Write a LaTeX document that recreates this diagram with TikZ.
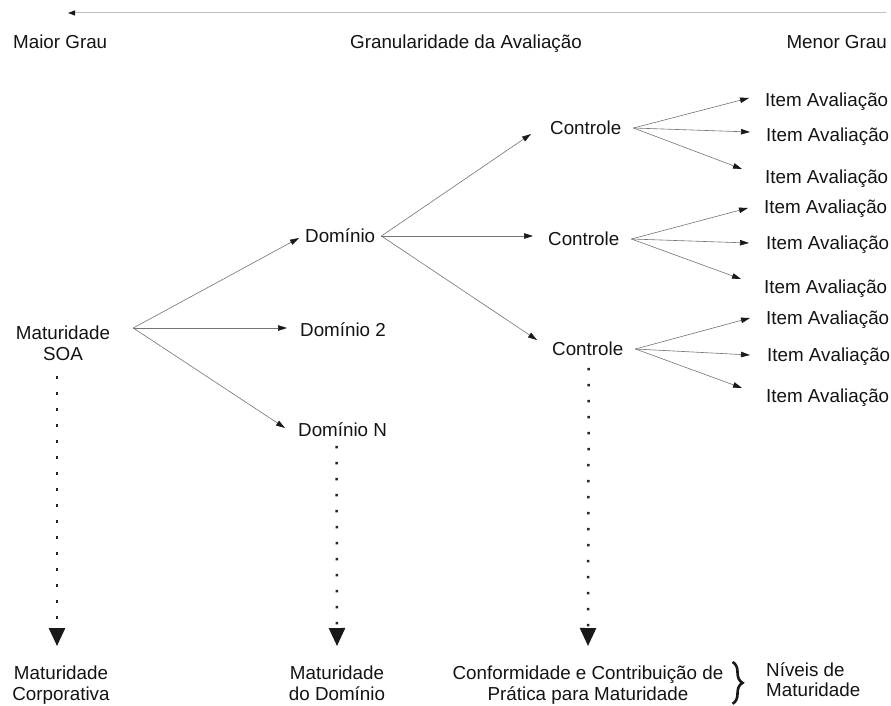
\documentclass[tikz,border=0pt]{standalone}
\usepackage{fontspec}
\setmainfont{Liberation Sans}
\usetikzlibrary{arrows.meta,decorations.pathreplacing}
\begin{document}
\begin{tikzpicture}[x=1pt,y=-1pt,
  lbl/.style={inner sep=0pt, text height=13.5pt, text depth=0pt,
    font=\fontsize{18.8}{20.5}\selectfont, text=black!92},
  multi/.style={inner sep=0pt, align=center,
    font=\fontsize{18.8}{20.8}\selectfont, text=black!92},
  link/.style={draw=black!55, line width=0.6pt,
    -{Triangle[length=9pt,width=5.5pt,color=black!90]}},
  axisline/.style={draw=black!25, line width=1pt,
    -{Triangle[length=7pt,width=5pt,color=black!90]}},
  dotline/.style={draw=black!85, line width=2.5pt, line cap=butt,
    dash pattern=on 2.5pt off 13.5pt,
    -{Triangle[length=18pt,width=16pt,color=black!90]}},
  bracemark/.style={draw=black!90, line width=2.6pt,
    decorate, decoration={brace, amplitude=10pt}}
]
\useasboundingbox[fill=white] (0,0) rectangle (891,706);

% granularity axis
\coordinate (axisR) at (886,13);
\coordinate (axisL) at (68,13);
\draw[axisline] (axisR) -- (axisL);
\node[lbl, anchor=west] (maior) at (13,42) {Maior Grau};
\node[lbl] (gran) at (466,42) {Granularidade da Avaliação};
\node[lbl, anchor=east] (menor) at (887,42) {Menor Grau};

% hierarchy
\node[multi, anchor=north] (soa) at (63,326) {Maturidade\\SOA};
\node[lbl, anchor=west] (dom)  at (305,236) {Domínio};
\node[lbl, anchor=west] (dom2) at (300,330) {Domínio 2};
\node[lbl, anchor=west] (domN) at (298,430) {Domínio N};
\node[lbl, anchor=west] (c1) at (550,128) {Controle};
\node[lbl, anchor=west] (c2) at (548,239) {Controle};
\node[lbl, anchor=west] (c3) at (552,349) {Controle};

\node[lbl, anchor=west] (i1) at (765,100) {Item Avaliação};
\node[lbl, anchor=west] (i2) at (766,135) {Item Avaliação};
\node[lbl, anchor=west] (i3) at (765,177) {Item Avaliação};
\node[lbl, anchor=west] (i4) at (764,207) {Item Avaliação};
\node[lbl, anchor=west] (i5) at (766,243) {Item Avaliação};
\node[lbl, anchor=west] (i6) at (764,287) {Item Avaliação};
\node[lbl, anchor=west] (i7) at (766,318) {Item Avaliação};
\node[lbl, anchor=west] (i8) at (767,355) {Item Avaliação};
\node[lbl, anchor=west] (i9) at (766,396) {Item Avaliação};

% maturity levels
\node[multi, anchor=north] (corp) at (61,666) {Maturidade\\Corporativa};
\node[multi, anchor=north] (mdom) at (337,666) {Maturidade\\do Domínio};
\node[multi, anchor=north] (conf) at (588,666) {Conformidade e Contribuição de\\Prática para Maturidade};
\node[multi, anchor=north west, align=left] (niv) at (766,662) {Níveis de\\Maturidade};
\draw[bracemark] ([shift={(9,-4)}]conf.north east) -- ([shift={(9,-1)}]conf.south east);

% SOA to domains
\draw[link] ([shift={(23,2)}]soa.north east) -- ([shift={(-6,2)}]dom.west);
\draw[link] ([shift={(23,2)}]soa.north east) -- ([shift={(-13,-2)}]dom2.west);
\draw[link] ([shift={(23,2)}]soa.north east) -- ([shift={(-13,-2)}]domN.west);

% domain to controls
\draw[link] ([shift={(6,0)}]dom.east) -- ([shift={(-19,6)}]c1.west);
\draw[link] ([shift={(6,0)}]dom.east) -- ([shift={(-15,-3)}]c2.west);
\draw[link] ([shift={(6,0)}]dom.east) -- ([shift={(-15,-9)}]c3.west);

% controls to assessment items
\draw[link] ([shift={(12,0)}]c1.east) -- ([shift={(-16,-2)}]i1.west);
\draw[link] ([shift={(12,0)}]c1.east) -- ([shift={(-16,-3)}]i2.west);
\draw[link] ([shift={(12,0)}]c1.east) -- ([shift={(-23,-8)}]i3.west);
\draw[link] ([shift={(12,0)}]c2.east) -- ([shift={(-16,1)}]i4.west);
\draw[link] ([shift={(12,0)}]c2.east) -- ([shift={(-17,0)}]i5.west);
\draw[link] ([shift={(12,0)}]c2.east) -- ([shift={(-23,-8)}]i6.west);
\draw[link] ([shift={(12,0)}]c3.east) -- ([shift={(-16,0)}]i7.west);
\draw[link] ([shift={(12,0)}]c3.east) -- ([shift={(-17,0)}]i8.west);
\draw[link] ([shift={(12,0)}]c3.east) -- ([shift={(-24,-8)}]i9.west);

% granularity levels down to maturity
\draw[dotline] ([shift={(-6,15)}]soa.south) -- ([shift={(-4,-20)}]corp.north);
\draw[dotline] ([shift={(-6,9)}]domN.south) -- ([shift={(0,-20)}]mdom.north);
\draw[dotline] ([shift={(1,12)}]c3.south) -- ([shift={(0,-20)}]conf.north);
\end{tikzpicture}
\end{document}
